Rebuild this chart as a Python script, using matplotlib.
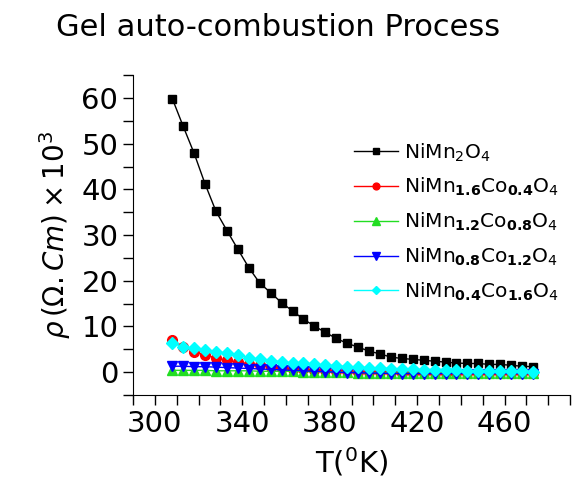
import matplotlib
matplotlib.use('Agg')
import matplotlib.pyplot as plt
from matplotlib.ticker import MultipleLocator

# Temperature (K)
temps = [308, 313, 318, 323, 328, 333, 338, 343, 348, 353,
         358, 363, 368, 373, 378, 383, 388, 393, 398, 403,
         408, 413, 418, 423, 428, 433, 438, 443, 448, 453,
         458, 463, 468, 473]

# Resistivity (x10^3 Ohm.cm)
rho_mn2 = [59.9, 53.8, 47.9, 41.2, 35.2, 31.0, 26.9, 22.9, 19.5, 17.4,
           15.2, 13.4, 11.6, 10.1, 8.7, 7.4, 6.3, 5.5, 4.6, 4.0,
           3.3, 3.0, 2.8, 2.6, 2.4, 2.2, 2.0, 1.9, 1.9, 1.7,
           1.7, 1.5, 1.3, 1.2]
rho_co04 = [7.0, 5.6, 4.5, 3.8, 3.1, 2.6, 2.2, 1.8, 1.5, 1.2,
            1.0, 0.8, 0.6, 0.5, 0.4, 0.3, 0.2, 0.1, 0.1, 0.0,
            0.0, -0.1, -0.1, -0.1, -0.1, -0.2, -0.2, -0.2, -0.2, -0.2,
            -0.2, -0.2, -0.2, -0.2]
rho_co08 = [0.4, 0.4, 0.4, 0.4, 0.3, 0.3, 0.3, 0.3, 0.2, 0.2,
            0.2, 0.2, 0.1, 0.1, 0.1, 0.0, 0.0, -0.1, -0.1, -0.1,
            -0.2, -0.2, -0.2, -0.2, -0.2, -0.2, -0.2, -0.2, -0.2, -0.2,
            -0.2, -0.2, -0.2, -0.2]
rho_co12 = [1.3, 1.3, 1.2, 1.2, 1.1, 1.0, 0.9, 0.8, 0.7, 0.6,
            0.5, 0.4, 0.3, 0.2, 0.1, 0.0, -0.1, -0.1, -0.2, -0.2,
            -0.3, -0.3, -0.3, -0.3, -0.3, -0.3, -0.3, -0.3, -0.3, -0.3,
            -0.3, -0.3, -0.3, -0.3]
rho_co16 = [6.3, 5.6, 5.2, 4.8, 4.4, 4.1, 3.7, 3.2, 2.8, 2.5,
            2.3, 2.0, 1.9, 1.7, 1.6, 1.4, 1.2, 1.1, 1.0, 0.9,
            0.8, 0.7, 0.6, 0.5, 0.5, 0.4, 0.4, 0.3, 0.3, 0.3,
            0.2, 0.2, 0.2, 0.1]

labels = [r'NiMn$\mathregular{_2}$O$\mathregular{_4}$',
          r'NiMn$_{\mathbf{1.6}}$Co$_{\mathbf{0.4}}$O$\mathregular{_4}$',
          r'NiMn$_{\mathbf{1.2}}$Co$_{\mathbf{0.8}}$O$\mathregular{_4}$',
          r'NiMn$_{\mathbf{0.8}}$Co$_{\mathbf{1.2}}$O$\mathregular{_4}$',
          r'NiMn$_{\mathbf{0.4}}$Co$_{\mathbf{1.6}}$O$\mathregular{_4}$']

fig = plt.figure(figsize=(5.73, 4.95), dpi=100)
ax = fig.add_axes([0.232, 0.202, 0.763, 0.646])

# Draw the curves
ax.plot(temps, rho_mn2, color='black', marker='s', markersize=6, lw=1, label=labels[0])
ax.plot(temps, rho_co04, color='red', marker='o', markersize=7, lw=1, label=labels[1])
ax.plot(temps, rho_co08, color='#22dd22', marker='^', markersize=7.5, lw=1, label=labels[2])
ax.plot(temps, rho_co12, color='blue', marker='v', markersize=7.5, lw=1, label=labels[3])
ax.plot(temps, rho_co16, color='cyan', marker='D', markersize=6.5, lw=1, label=labels[4])

# Axes limits and ticks
ax.set_xlim(290, 490)
ax.set_ylim(-5, 65)
ax.xaxis.set_minor_locator(MultipleLocator(10))
ax.set_xticks([300, 340, 380, 420, 460])
ax.yaxis.set_minor_locator(MultipleLocator(5))
ax.set_yticks([0, 10, 20, 30, 40, 50, 60])
ax.tick_params(axis='both', which='both', direction='out', length=7, width=1)
ax.tick_params(axis='both', labelsize=21)

ax.spines['top'].set_visible(False)
ax.spines['right'].set_visible(False)

ax.set_xlabel(r'T($\mathregular{^0}$K)', fontsize=21, labelpad=6)
ax.set_ylabel(r'$\rho\,(\Omega.Cm)\times10^3$', fontsize=20, labelpad=6)

fig.text(0.485, 0.945, 'Gel auto-combustion Process', ha='center', va='center', fontsize=22)

ax.legend(loc='upper left', bbox_to_anchor=(0.6, 0.735), bbox_transform=fig.transFigure,
          frameon=False, fontsize=14.5, handlelength=2.2, handletextpad=0.3,
          labelspacing=0.62, borderpad=0, markerscale=0.7)

fig.savefig('out.png', dpi=100)
